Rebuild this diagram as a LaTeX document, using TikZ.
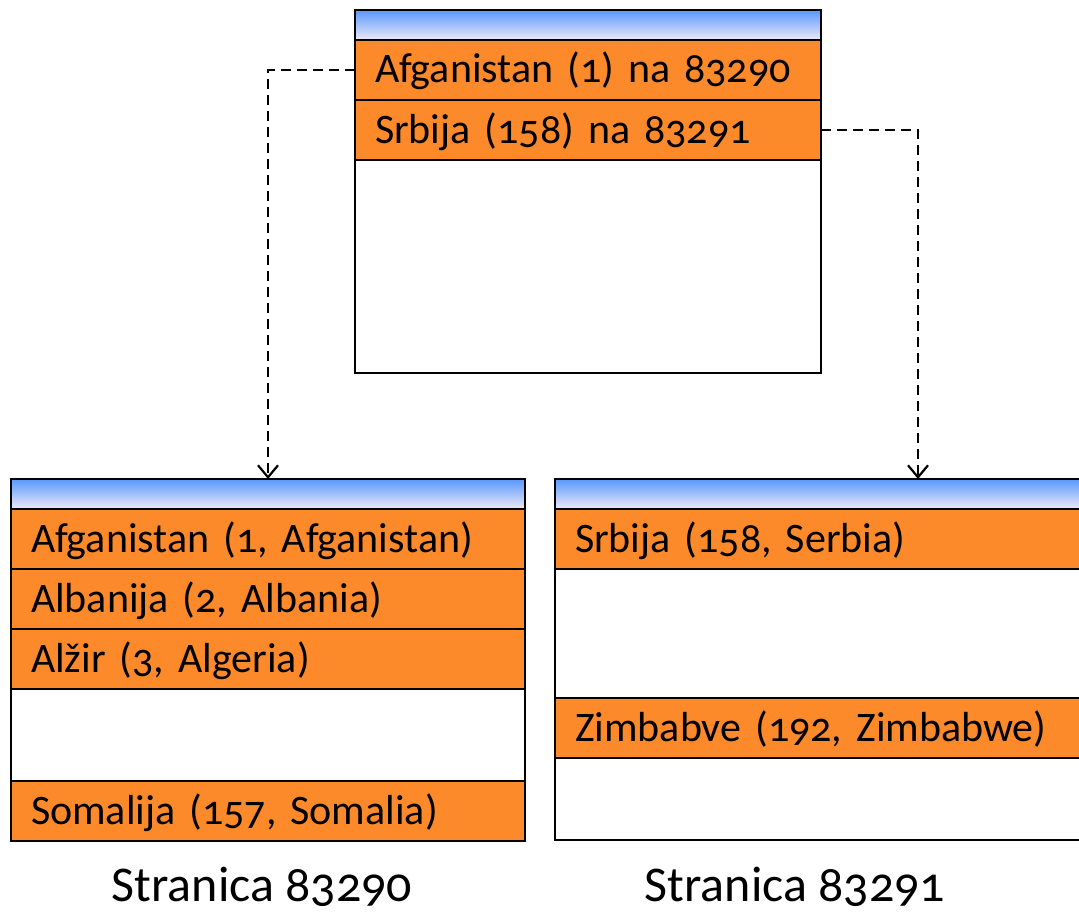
\documentclass[tikz,border=0pt]{standalone}
\usepackage{fontspec}
\setmainfont{Carlito}[Numbers=OldStyle]
\usetikzlibrary{positioning, arrows.meta}

\definecolor{roworange}{RGB}{252,137,42}
\definecolor{headtop}{RGB}{88,152,255}
\definecolor{headbottom}{RGB}{238,234,246}

\begin{document}
\begin{tikzpicture}[
		x=1pt, y=-1pt,
		>={Straight Barb[length=12pt, width=20pt]},
		cell/.style={draw, line width=2.5pt, outer sep=0pt, inner xsep=20pt, inner ysep=0pt,
			align=left, text height=32pt, text depth=6pt, font=\fontsize{42}{48}\selectfont},
		head/.style={cell, text height=0pt, text depth=0pt, top color=headtop, bottom color=headbottom, minimum height=30pt},
		entry/.style={cell, fill=roworange, minimum height=60pt},
		blank/.style={cell, fill=white},
		link/.style={->, dashed, dash pattern=on 10pt off 6pt, line width=2.2pt},
		caption/.style={font=\fontsize{50}{60}\selectfont}
		]
		\useasboundingbox (0,0) rectangle (1079,915);
		
		% Root page
		\node[head, anchor=north west, text width=426pt] (root-head) at (355,10) {};
		\node[entry, text width=426pt, below=0pt of root-head] (root-r1) {Afganistan (1) na 83290};
		\node[entry, text width=426pt, below=0pt of root-r1] (root-r2) {Srbija (158) na 83291};
		\node[blank, text width=426pt, minimum height=213pt, below=0pt of root-r2] (root-r3) {};
		
		% Leaf page 83290
		\node[head, anchor=north west, text width=474pt] (left-head) at (11,479) {};
		\node[entry, text width=474pt, below=0pt of left-head] (left-r1) {Afganistan (1, Afganistan)};
		\node[entry, text width=474pt, below=0pt of left-r1] (left-r2) {Albanija (2, Albania)};
		\node[entry, text width=474pt, below=0pt of left-r2] (left-r3) {Alžir (3, Algeria)};
		\node[blank, text width=474pt, minimum height=92pt, below=0pt of left-r3] (left-r4) {};
		\node[entry, text width=474pt, below=0pt of left-r4] (left-r5) {Somalija (157, Somalia)};
		
		% Leaf page 83291
		\node[head, anchor=north west, text width=686pt] (right-head) at (555,479) {};
		\node[entry, text width=686pt, below=0pt of right-head] (right-r1) {Srbija (158, Serbia)};
		\node[blank, text width=686pt, minimum height=129pt, below=0pt of right-r1] (right-r2) {};
		\node[entry, text width=686pt, below=0pt of right-r2] (right-r3) {Zimbabve (192, Zimbabwe)};
		\node[blank, text width=686pt, minimum height=82pt, below=0pt of right-r3] (right-r4) {};
		
		% Pointers from the root to the leaves
		\draw[link] (root-r1.west) -| (left-head.north);
		\draw[link] (root-r2.east) -| (right-head.north);
		
		% Page names
		\node[caption] (left-name) at (262,887) {Stranica 83290};
		\node[caption] (right-name) at (795,887) {Stranica 83291};
		
	\end{tikzpicture}
\end{document}
